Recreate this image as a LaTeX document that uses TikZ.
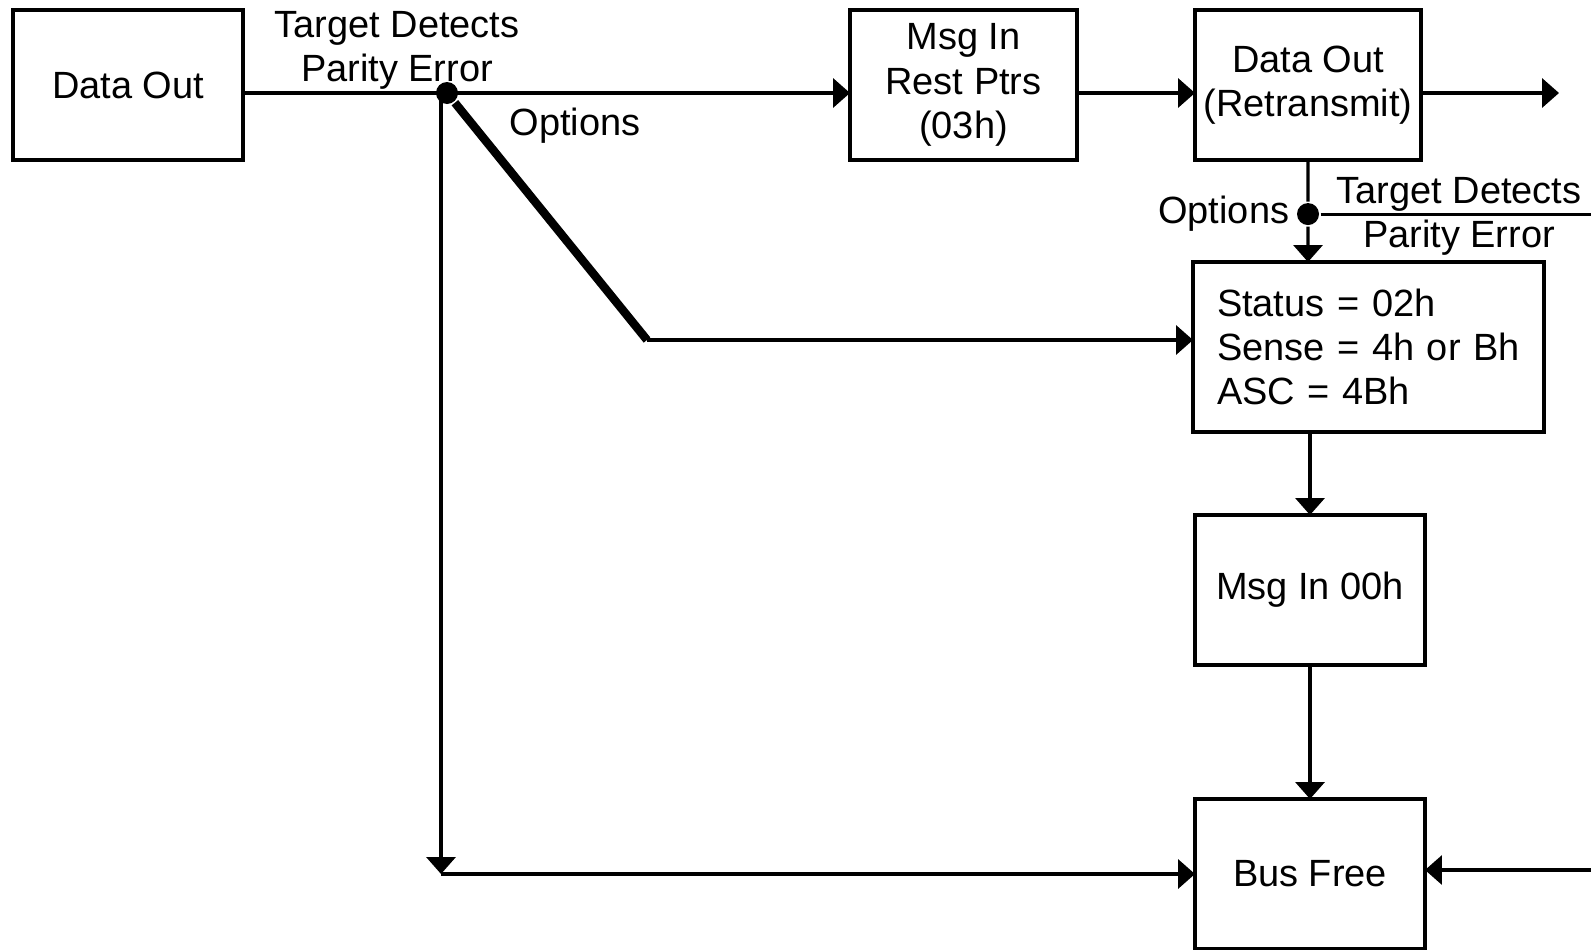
\documentclass[tikz,border=0pt]{standalone}
\usepackage{fontspec}
\setmainfont{Liberation Sans}
\usetikzlibrary{positioning, calc, arrows.meta}

\begin{document}
\begin{tikzpicture}[font=\fontsize{27}{31.5}\selectfont, line width=2.2pt,
    >={Triangle[length=0.42cm, width=0.72cm]},
    phase/.style={draw, rectangle, line width=2.4pt, outer sep=0pt, minimum width=5.75cm, minimum height=3.75cm, align=center},
    junction/.style={circle, fill, inner sep=0pt, minimum size=0.55cm},
    note/.style={inner sep=0pt, align=center}]
% Page frame
\useasboundingbox (0,0) coordinate (nw) rectangle (39.775,-23.725) coordinate (se);

% Phase boxes along the top and down the right side
\node (dout) [phase] at (3.2,-2.125) {Data Out};
\node (msgin) [phase, minimum width=5.675cm, right=15.175cm of dout] {Msg In\\Rest Ptrs\\(03h)};
\node (retx) [phase, minimum width=5.65cm, right=2.95cm of msgin] {Data Out\\(Retransmit)};
\node (status) [draw, rectangle, line width=2.4pt, outer sep=0pt, text width=7.575cm, inner xsep=0.6cm, minimum height=4.25cm, align=left, below right=2.55cm and -0.05cm of retx.south west] {Status = 02h\\Sense = 4h or Bh\\ASC = 4Bh};
\node (msg00) [phase, below right=2.075cm and 0.05cm of status.south west] {Msg In 00h};
\node (busfree) [phase, below=3.35cm of msg00] {Bus Free};

% Branch points
\coordinate (tl) at ([yshift=-0.2cm]dout.east);
\node (dota) [junction] at ($(tl) + (5.1cm,0)$) {};
\node (dotb) [junction] at ($(retx.south)!0.53!(retx.south |- status.north)$) {};
\coordinate (drop) at ($(dota) + (-0.15cm,0)$);
\coordinate (bend) at ($(dota) + (5.0cm,-6.175cm)$);
\coordinate (corner) at (drop |- busfree.west);
\coordinate (exit) at ($(retx.east |- tl) + (3.45cm,0)$);
\coordinate (busin) at ([yshift=0.1cm]busfree.east);

% Labels
\node (tdpe) [note] at ($(dota) + (-1.25cm,1.065cm)$) {Target Detects\\Parity Error};
\node (opta) [note] at ($(dota) + (3.2cm,-0.825cm)$) {Options};
\node (optb) [note, left=0.12cm of dotb] {Options};
\node (tdpeb) [note] at ($(dotb) + (3.775cm,-0.05cm)$) {Target Detects\\Parity Error};

% Connectors
\draw[->] (tl) -- (tl -| msgin.west);
\draw[->] (msgin.east |- tl) -- (retx.west |- tl);
\draw[->] (retx.east |- tl) -- (exit);
\draw[line width=6pt] (dota) -- (bend);
\draw[->] (bend) -- (bend -| status.west);
\draw[->] (drop) -- (corner);
\draw[->] (corner) -- (busfree.west);
\draw (retx.south) -- (dotb);
\draw[->] (dotb) -- (status.north -| retx.south);
\draw (dotb) -- (dotb -| se);
\draw[->] (status.south -| msg00.north) -- (msg00.north);
\draw[->] (msg00) -- (busfree);
\draw[->] (busin -| se) -- (busin);
\end{tikzpicture}
\end{document}
